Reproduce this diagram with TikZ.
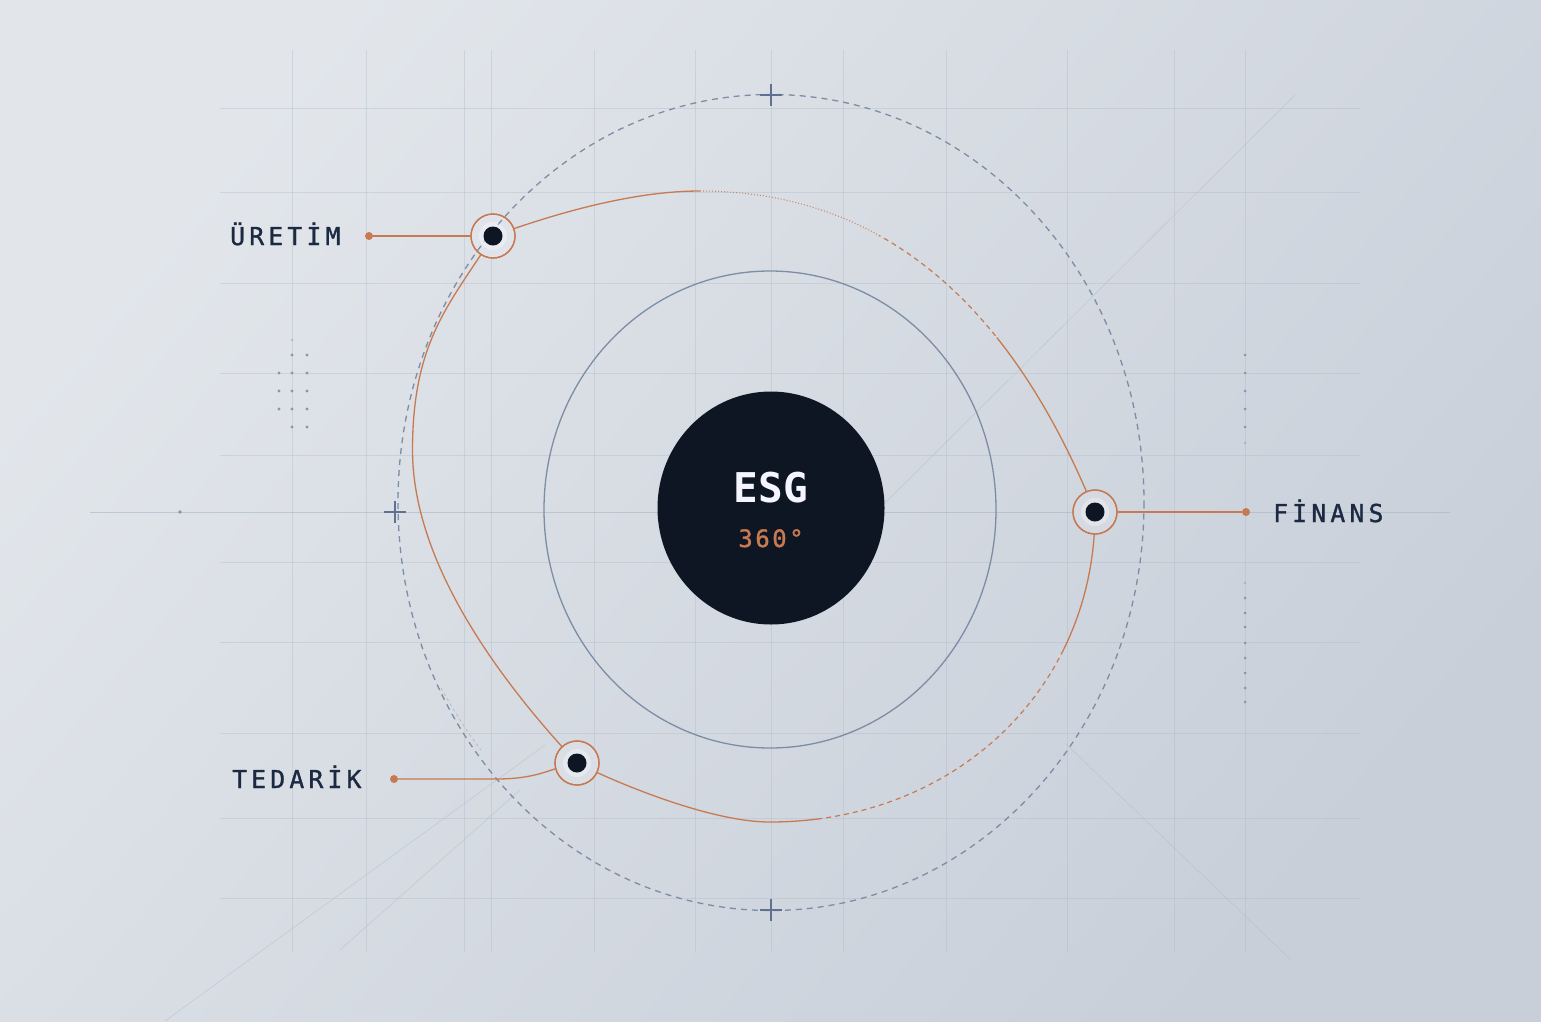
\documentclass[tikz,border=0pt]{standalone}
\usepackage{fontspec}
\newfontfamily\monof{DejaVu Sans Mono}
\newfontfamily\monom[FakeBold=1.2]{DejaVu Sans Mono}
\usetikzlibrary{shapes.geometric}
\definecolor{bgA}{HTML}{E2E6EB}
\definecolor{bgB}{HTML}{C8CFD9}
\definecolor{gridc}{HTML}{A9B5C4}
\definecolor{navy}{HTML}{0E1623}
\definecolor{txt}{HTML}{1B2A42}
\definecolor{org}{HTML}{C77A51}
\definecolor{blu}{HTML}{7C8DA5}
\definecolor{crossc}{HTML}{5E7190}
\definecolor{dotc}{HTML}{8796AC}
\def\trkgap{4.2pt}
\def\trkloop#1{\ifx#1\relax\else#1\kern\trkgap\relax\expandafter\trkloop\fi}
\newcommand\trk[1]{\trkloop#1\relax}
\def\orbitR{(493,236) .. controls (568,208.8) and (640,191) .. (700,191) .. controls (900,191) and (1020,326.6) .. (1095,512) .. controls (1095,688.7) and (955.3,822) .. (770,822) .. controls (710,822) and (617,783) .. (577,763)}
\begin{document}
\begin{tikzpicture}[x=1pt,y=-1pt,
  gridline/.style={gridc, line width=0.7pt, opacity=0.35},
  diag/.style={gridc, line width=0.6pt, opacity=0.45},
  orb/.style={org, line width=1.3pt},
  orbdot/.style={org, line width=1.1pt, dash pattern=on 1pt off 2pt, opacity=.85},
  orbdash/.style={org, line width=1.2pt, dash pattern=on 5pt off 4pt},
  ring/.style={circle, draw=org, line width=1.3pt, minimum size=44pt, inner sep=0pt},
  core/.style={circle, fill=navy, minimum size=19pt, inner sep=0pt},
  halo/.style={circle, fill=white, fill opacity=.3, minimum size=28pt, inner sep=0pt},
  enddot/.style={circle, fill=org, minimum size=8pt, inner sep=0pt},
  lbl/.style={text=txt, font=\monom\fontsize{24.7}{28}\selectfont, inner sep=0pt, anchor=base west},
  cross/.style={crossc, line width=1.2pt},
  gdot/.style={dotc}
]
\useasboundingbox (0,0) rectangle (1541,1021);
% background
\shade[top color=bgA, bottom color=bgB, shading angle=50] (0,0) rectangle (1541,1021);
% grid
\foreach \gx in {292,366,464,491,594,695,771,843,946,1067,1174,1245}
  \draw[gridline] (\gx,50) -- (\gx,952);
\foreach \gy in {108,192,283,373,455,562,642,733,818,898}
  \draw[gridline] (220,\gy) -- (1360,\gy);
\draw[gridc, line width=0.9pt, opacity=.6] (90,512) -- (1450,512);
\fill[dotc] (180,512) circle (1.8);
% diagonals
\draw[diag] (1295,95) -- (870,518);
\draw[diag] (1065,743) -- (1291,960);
\draw[diag] (545,745) -- (165,1021);
\draw[diag] (520,790) -- (340,950);
% dot clusters
\foreach \px/\py in {292/355,307/355,279/373,292/373,307/373,279/391,292/391,307/391,279/409,292/409,307/409,292/427,307/427}
  \fill[gdot] (\px,\py) circle (1.7);
\fill[gdot, opacity=.5] (292,340) circle (1.4);
\foreach \py in {355,373,391,409,427,598,613,627,643,658,673,688,702}
  \fill[gdot] (1245,\py) circle (1.5);
\foreach \py in {443,583}
  \fill[gdot, opacity=.5] (1245,\py) circle (1.3);
% orange orbit, right part: one smooth path, styled by angular wedges around (754,507)
\begin{scope}
  \clip[shift={(754,507)}] (0,0) -- (-150:1600) -- (-99.7:1600) -- cycle
        (0,0) -- (-34.9:1600) -- (0:1600) -- (25.2:1600) -- cycle
        (0,0) -- (78.2:1600) -- (110:1600) -- (140:1600) -- cycle;
  \draw[orb] \orbitR;
\end{scope}
\begin{scope}
  \clip[shift={(754,507)}] (0,0) -- (-99.7:1600) -- (-65.25:1600) -- cycle;
  \draw[orbdot] \orbitR;
\end{scope}
\begin{scope}
  \clip[shift={(754,507)}] (0,0) -- (-65.25:1600) -- (-34.9:1600) -- cycle
        (0,0) -- (25.2:1600) -- (50:1600) -- (78.2:1600) -- cycle;
  \draw[orbdash] \orbitR;
\end{scope}
% orange orbit, left part
\draw[orb] (577,763) .. controls (494.9,675.4) and (412.5,560) .. (412.5,450) .. controls (412.5,340) and (450.3,303.6) .. (493,236);
% rings (filled)
\node[ring, fill=bgA!92!bgB] (uret) at (493,236) {};
\node[ring, fill=bgA!50!bgB] (fin) at (1095,512) {};
\node[ring, fill=bgA!68!bgB] (ted) at (577,763) {};
% blue circles
\draw[blu, line width=1.3pt, dash pattern=on 6pt off 5pt] (771,502.5) ellipse [x radius=373, y radius=408];
\draw[blu, line width=1.3pt] (770,509.5) ellipse [x radius=226, y radius=238.5];
\draw[blu, opacity=.4, line width=.8pt, dash pattern=on 3pt off 3pt] plot[smooth] coordinates {(441,688) (455,712) (470,735) (481,750)};
% crosses
\draw[cross] (760,95) -- (782,95) (771,84) -- (771,106);
\draw[cross] (760,910) -- (782,910) (771,899) -- (771,921);
\draw[cross] (384,512) -- (406,512) (395,501) -- (395,523);
% ring strokes on top
\node[ring] (uret2) at (493,236) {};
\node[ring] (fin2) at (1095,512) {};
\node[ring] (ted2) at (577,763) {};
% halos and dots
\node[halo] (uh) at (uret) {};
\node[halo] (fh) at (fin) {};
\node[halo] (th) at (ted) {};
\node[core] (uc) at (uret) {};
\node[core] (fc) at (fin) {};
\node[core] (tc) at (ted) {};
% connectors
\node[enddot] (ud) at (369,236) {};
\node[enddot] (fd) at (1246,512) {};
\node[enddot] (td) at (394,779) {};
\draw[orb] (ud) -- (uret.west);
\draw[orb] (fin.east) -- (fd);
\draw[orb] (td) -- (496,779) .. controls (525,779) and (540,774) .. (ted.195);
% hub
\node[ellipse, fill=navy, minimum width=227pt, minimum height=233pt, inner sep=0pt] (hub) at (771,508) {};
\node[font=\monof\bfseries\fontsize{41}{46}\selectfont, text=white!96!blue, anchor=base, inner sep=0pt] (esg) at (771,502) {ESG};
\node[font=\monom\fontsize{24}{28}\selectfont, text=org, anchor=base, inner sep=0pt] (deg) at (771,547) {3\kern2.5pt 6\kern2.5pt 0\kern2.5pt °};
% labels
\node[lbl] (tu) at (230,245) {\trk{ÜRETİM}};
\node[lbl] (tt) at (232,788) {\trk{TEDARİK}};
\node[lbl] (tf) at (1273,522) {\trk{FİNANS}};
\end{tikzpicture}
\end{document}
